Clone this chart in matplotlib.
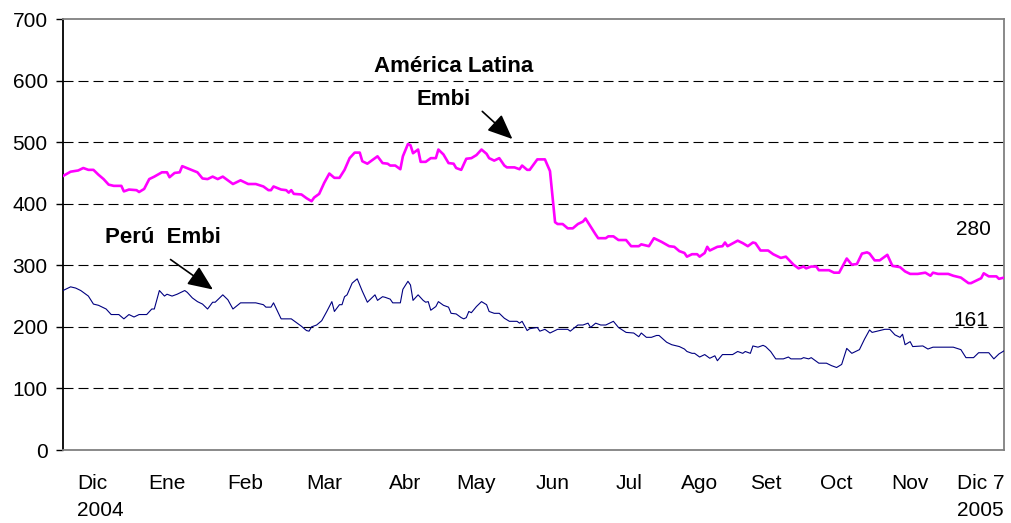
import matplotlib
matplotlib.use('Agg')
import matplotlib.pyplot as plt

plt.rcParams.update({
    'font.family': ['Liberation Sans', 'DejaVu Sans'],
    'font.size': 15,
})

# days since 1 Dec 2004
latam_days = [0, 3, 6, 8, 10, 12, 14, 16, 18, 20, 23, 24, 26, 29, 30, 32, 34, 36, 39, 41,
              42, 44, 46, 47, 50, 53, 55, 57, 59, 61, 63, 67, 70, 73, 76, 79, 81, 82, 83, 86,
              88, 89, 90, 91, 94, 96, 98, 99, 101, 103, 105, 107, 109, 111, 113, 115, 117, 118, 120, 123,
              124, 126, 128, 129, 131, 133, 134, 136, 137, 138, 140, 141, 143, 145, 147, 148, 150, 152, 154, 155,
              157, 159, 161, 163, 165, 167, 168, 170, 172, 174, 175, 178, 180, 181, 183, 184, 187, 190, 192, 193,
              194, 195, 197, 199, 201, 203, 205, 206, 208, 210, 211, 214, 215, 217, 219, 222, 224, 227, 228, 231,
              233, 236, 239, 241, 243, 245, 246, 248, 250, 251, 253, 254, 255, 258, 260, 261, 262, 266, 268, 270,
              272, 273, 275, 278, 280, 283, 285, 288, 290, 292, 293, 295, 297, 298, 302, 304, 306, 309, 311, 313,
              315, 317, 318, 320, 322, 325, 327, 330, 332, 334, 337, 340, 342, 343, 345, 349, 351, 354, 357, 358,
              360, 362, 363, 365, 368, 369, 371]
latam_vals = [445, 452, 454, 458, 455, 455, 447, 440, 431, 429, 429, 420, 423, 422, 419, 424, 440, 444, 451, 451,
              443, 450, 451, 461, 456, 451, 441, 440, 444, 440, 444, 432, 438, 432, 432, 428, 422, 422, 428, 423,
              422, 418, 422, 416, 415, 409, 404, 410, 416, 434, 449, 442, 442, 455, 474, 483, 483, 469, 465, 474,
              477, 466, 465, 462, 462, 456, 477, 497, 495, 482, 488, 468, 468, 474, 474, 488, 480, 466, 465, 458,
              455, 473, 474, 479, 488, 481, 474, 470, 474, 462, 459, 459, 456, 462, 455, 455, 472, 472, 453, 412,
              370, 367, 367, 360, 360, 367, 371, 376, 363, 350, 344, 344, 347, 347, 341, 341, 331, 331, 334, 331,
              344, 338, 331, 330, 323, 320, 314, 318, 318, 314, 320, 330, 324, 330, 331, 337, 331, 340, 336, 331,
              337, 336, 324, 324, 318, 312, 314, 301, 295, 298, 295, 298, 298, 292, 292, 288, 288, 311, 301, 302,
              319, 321, 319, 308, 308, 317, 299, 297, 290, 286, 286, 288, 283, 288, 286, 286, 283, 280, 271, 271,
              275, 279, 287, 282, 282, 278, 280]

peru_days = [0, 3, 5, 7, 9, 10, 12, 14, 16, 17, 19, 22, 24, 26, 28, 30, 33, 35, 36, 38,
             40, 41, 43, 45, 48, 49, 51, 53, 55, 57, 59, 60, 63, 65, 67, 70, 76, 79, 80, 82,
             83, 86, 90, 94, 96, 97, 98, 100, 102, 104, 106, 107, 109, 110, 111, 112, 114, 116, 118, 120,
             121, 123, 124, 126, 127, 129, 130, 133, 134, 136, 137, 138, 140, 142, 143, 144, 145, 147, 148, 150,
             152, 153, 155, 157, 158, 159, 160, 161, 163, 165, 167, 168, 170, 172, 174, 176, 179, 180, 181, 183,
             184, 187, 188, 190, 192, 195, 199, 200, 203, 205, 207, 208, 210, 212, 214, 217, 219, 222, 225, 227,
             228, 230, 232, 234, 235, 238, 240, 243, 245, 246, 248, 249, 251, 253, 255, 257, 258, 260, 264, 266,
             268, 269, 271, 272, 274, 276, 277, 279, 281, 284, 286, 287, 291, 292, 294, 295, 298, 301, 303, 305,
             307, 309, 311, 314, 316, 318, 319, 321, 324, 326, 328, 330, 331, 332, 334, 335, 339, 341, 343, 351,
             354, 356, 359, 361, 365, 367, 369, 371]
peru_vals = [259, 265, 263, 259, 253, 250, 237, 235, 231, 229, 220, 220, 213, 220, 216, 220, 220, 229, 229, 259,
             250, 253, 250, 253, 259, 256, 247, 241, 237, 229, 240, 240, 252, 244, 229, 239, 239, 236, 232, 232,
             239, 213, 213, 201, 194, 193, 200, 203, 210, 225, 241, 225, 236, 236, 249, 252, 271, 278, 258, 240,
             244, 252, 243, 249, 248, 245, 239, 239, 261, 274, 268, 243, 252, 243, 240, 241, 227, 233, 241, 235,
             232, 222, 221, 215, 213, 215, 225, 223, 233, 241, 236, 225, 222, 222, 214, 209, 209, 206, 209, 194,
             197, 199, 193, 196, 190, 196, 196, 193, 203, 203, 206, 199, 206, 203, 203, 209, 199, 191, 190, 184,
             190, 183, 183, 186, 186, 175, 171, 168, 164, 160, 157, 157, 151, 155, 149, 153, 145, 155, 155, 160,
             157, 160, 157, 169, 167, 170, 168, 160, 148, 148, 151, 148, 148, 150, 148, 150, 141, 141, 137, 134,
             139, 165, 157, 163, 180, 195, 191, 193, 196, 196, 187, 183, 188, 171, 176, 168, 169, 164, 167, 167,
             163, 150, 150, 158, 158, 148, 156, 161]

month_labels = ['Dic\n2004', 'Ene', 'Feb', 'Mar', 'Abr', 'May', 'Jun', 'Jul', 'Ago', 'Set', 'Oct', 'Nov', 'Dic 7\n2005']
month_pos = [5.5, 41, 72, 103, 135, 163, 193, 223, 251, 277, 305, 334, 371]

fig = plt.figure(figsize=(10.11, 5.23), dpi=100)
ax = fig.add_axes([63 / 1011, 73 / 523, 941 / 1011, 431 / 523])

for y in range(100, 700, 100):
    ax.axhline(y, color='black', lw=0.8, linestyle=(0, (9, 4.5)), zorder=1)

ax.plot(latam_days, latam_vals, color='#FF00FF', lw=1.9, zorder=3)
ax.plot(peru_days, peru_vals, color='#000080', lw=0.8, zorder=3)

ax.set_xlim(0, 371)
ax.set_ylim(0, 700)
ax.set_yticks(range(0, 701, 100))
ax.set_xticks(month_pos)
ax.set_xticklabels(month_labels, linespacing=1.55)
ax.tick_params(axis='x', length=0, pad=17)
ax.tick_params(axis='y', length=5, width=1, pad=6)
labs = ax.get_xticklabels()
labs[0].set_horizontalalignment('left')
labs[0].set_multialignment('left')
labs[-1].set_horizontalalignment('right')
labs[-1].set_multialignment('right')

ax.spines['left'].set_color('black')
ax.spines['left'].set_linewidth(1.3)
for s in ['top', 'right', 'bottom']:
    ax.spines[s].set_color('#808080')
    ax.spines[s].set_linewidth(1.3)

ax.text(154, 623, 'América Latina', ha='center', va='center', fontsize=16, fontweight='bold')
ax.text(150, 569, 'Embi', ha='center', va='center', fontsize=16, fontweight='bold')
ax.annotate('', xy=(178, 502), xytext=(164.5, 553),
            arrowprops=dict(arrowstyle='-|>,head_length=0.7,head_width=0.3', color='black',
                            lw=1.2, mutation_scale=22))

ax.text(16.5, 345, 'Perú  Embi', ha='left', va='center', fontsize=16, fontweight='bold')
ax.annotate('', xy=(60, 258), xytext=(41.5, 312),
            arrowprops=dict(arrowstyle='-|>,head_length=0.7,head_width=0.3', color='black',
                            lw=1.2, mutation_scale=22))

ax.text(359, 358, '280', ha='center', va='center', fontsize=15)
ax.text(358, 211, '161', ha='center', va='center', fontsize=15)

fig.savefig('out.png', dpi=100)
